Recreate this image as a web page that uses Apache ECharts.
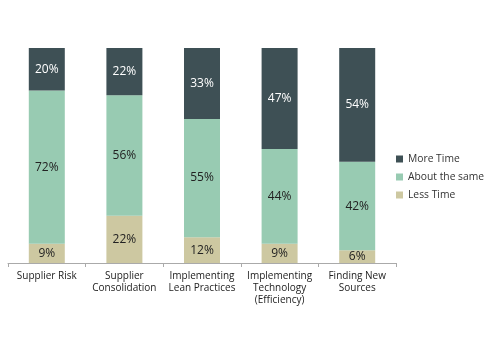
<!DOCTYPE html>
<html><head><meta charset="utf-8">
<script src="https://cdn.jsdelivr.net/npm/echarts@6/dist/echarts.min.js"></script>
<style>html,body{margin:0;padding:0;background:#fff}#c{width:485px;height:350px}</style>
</head><body><div id="c"></div>
<script>
var categories = ['Supplier Risk', 'Supplier\nConsolidation', 'Implementing\nLean Practices', 'Implementing\nTechnology\n(Efficiency)', 'Finding New\nSources'];
var lessTime = [9, 22, 12, 9, 6];
var aboutSame = [72, 56, 55, 44, 42];
var moreTime = [20, 22, 33, 47, 54];

var totals = categories.map(function(_, i){ return lessTime[i] + aboutSame[i] + moreTime[i]; });
function norm(arr){ return arr.map(function(v, i){ return { value: v / totals[i] * 100, raw: v }; }); }

var chart = echarts.init(document.getElementById('c'));
function mk(name, data, color, labelColor){
  return {
    name: name, type: 'bar', stack: 'a', barWidth: 36,
    data: norm(data),
    itemStyle: { color: color },
    label: { show: true, position: 'inside', color: labelColor, fontFamily: 'Open Sans', fontSize: 12,
      formatter: function(p){ return p.data.raw + '%'; } }
  };
}
chart.setOption({
  animation: false,
  textStyle: { fontFamily: 'Open Sans' },
  grid: { left: 8, right: 89, top: 48, bottom: 87 },
  legend: {
    orient: 'vertical', left: 391, top: 149,
    data: ['More Time', 'About the same', 'Less Time'],
    itemWidth: 7, itemHeight: 7, itemGap: 8, icon: 'rect',
    textStyle: { fontSize: 10.3, color: '#333', fontFamily: 'Open Sans' }
  },
  xAxis: {
    type: 'category', data: categories,
    axisLine: { lineStyle: { color: '#aaa' } },
    axisTick: { show: true, length: 4, lineStyle: { color: '#aaa' } },
    axisLabel: { fontSize: 10, color: '#222', lineHeight: 12, interval: 0, margin: 7 }
  },
  yAxis: { type: 'value', min: 0, max: 100, show: false },
  series: [
    mk('Less Time', lessTime, '#cdc8a1', '#222'),
    mk('About the same', aboutSame, '#98cbb2', '#222'),
    mk('More Time', moreTime, '#3e5055', '#fff')
  ]
});
</script></body></html>
